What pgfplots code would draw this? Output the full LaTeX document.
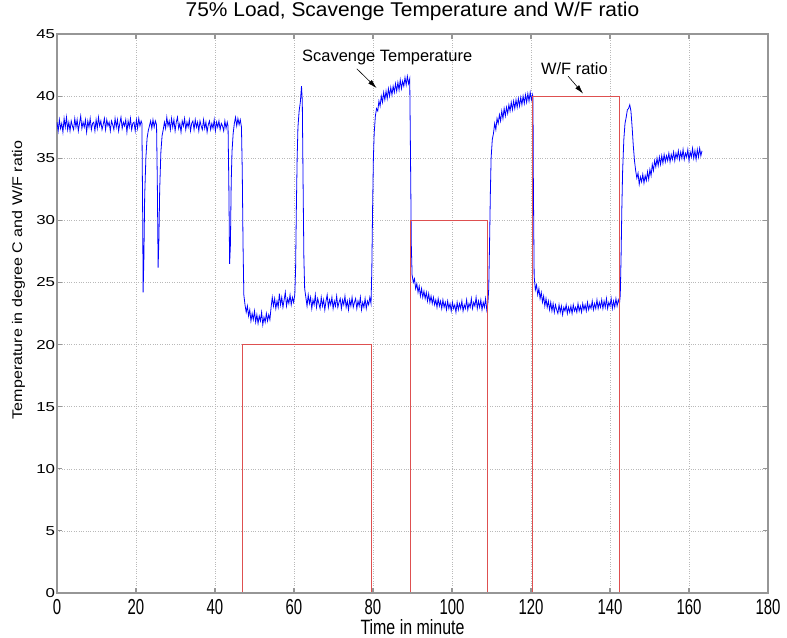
\documentclass[border=0pt]{standalone}
\usepackage{pgfplots}
\pgfplotsset{compat=1.18}
\usetikzlibrary{arrows.meta,calc}
\usepackage{fontspec}
\setmainfont{Liberation Sans}
\definecolor{wfred}{RGB}{222,80,80}
\definecolor{axgray}{RGB}{150,150,150}
\begin{document}
\begin{tikzpicture}
\begin{axis}[
    width=711bp, height=559bp, scale only axis,
    xmin=0, xmax=180, ymin=0, ymax=45,
    xtick={0,20,...,180}, ytick={0,5,...,45},
    /pgf/number format/assume math mode=true,
    xticklabel style={font=\fontsize{15}{17}\selectfont, yscale=1.45, yshift=-1bp},
    yticklabel style={font=\fontsize{13}{15}\selectfont, xscale=1.3, xshift=2bp},
    title style={font=\fontsize{20}{24}\selectfont, at={(rel axis cs:0.5,1)}, anchor=base, yshift=12bp},
    title={\scalebox{1.05}[1]{75\% Load, Scavenge Temperature and W/F ratio}},
    xlabel={\scalebox{1}[1.3]{Time in minute}},
    ylabel={\scalebox{1.15}[1]{Temperature in degree C and W/F ratio}},
    xlabel style={font=\fontsize{16}{18}\selectfont, at={(rel axis cs:0.5,0)}, anchor=base, yshift=-41bp},
    ylabel style={font=\fontsize{14}{16}\selectfont, at={($(rel axis cs:0,0.56)+(-38.5bp,0)$)}, anchor=center},
    grid=major,
    major grid style={dotted, gray!55, line width=0.5pt},
    axis line style={axgray, line width=1.2pt},
    major tick style={axgray, line width=1.2pt},
    major tick length=5bp,
    tick align=inside,
    xtick pos=both, ytick pos=both,
]
% scavenge temperature
\addplot[blue, line width=0.8pt] coordinates {
(0,37.9)(0.3,37.2)(0.6,38.1)(0.9,37.4)(1.2,37.8)(1.5,37.1)(1.8,38.2)(2.1,37.5)(2.4,38.3)(2.7,37.3)
(3.0,37.9)(3.3,37.2)(3.6,38.0)(3.9,37.6)(4.2,37.3)(4.5,38.2)(4.8,37.5)(5.1,38.1)(5.4,37.2)(5.7,37.8)
(6.0,38.4)(6.3,37.4)(6.6,37.9)(6.9,37.5)(7.2,38.1)(7.5,37.1)(7.8,38.0)(8.1,37.5)(8.4,38.2)(8.7,37.3)
(9.0,37.8)(9.3,37.9)(9.6,37.2)(9.9,38.1)(10.2,37.4)(10.5,38.3)(10.8,37.6)(11.1,38.0)(11.4,37.3)(11.7,37.7)
(12.0,38.2)(12.3,37.3)(12.6,38.1)(12.9,37.6)(13.2,37.9)(13.5,37.2)(13.8,38.0)(14.1,37.7)(14.4,37.3)(14.7,38.2)
(15.0,37.5)(15.3,38.1)(15.6,37.2)(15.9,37.8)(16.2,38.3)(16.5,37.4)(16.8,37.9)(17.1,37.6)(17.4,38.1)(17.7,37.1)
(18.0,38.0)(18.3,37.5)(18.6,38.2)(18.9,37.3)(19.2,37.8)(19.5,37.9)(19.8,37.2)(20.1,38.1)(20.4,37.4)(20.7,38.2)
(21.0,37.6)(21.3,38.0)(21.5,37.8)(21.7,30.0)(21.8,24.2)(22.0,27.0)(22.2,32.0)(22.5,35.0)(22.8,36.6)(23.1,37.2)
(23.4,37.6)(23.7,38.0)(24.0,37.4)(24.3,38.1)(24.6,37.5)(24.9,38.0)(25.2,37.7)(25.4,33.0)(25.6,26.2)(25.8,28.5)
(26.0,32.5)(26.3,35.5)(26.6,36.8)(26.9,37.3)(27.2,37.9)(27.5,37.4)(27.8,38.3)(28.1,37.6)(28.4,38.0)(28.7,37.3)
(29.0,38.2)(29.3,37.5)(29.6,38.1)(29.9,37.2)(30.2,37.9)(30.5,38.3)(30.8,37.4)(31.1,37.8)(31.4,37.1)(31.7,38.0)
(32.0,37.6)(32.3,38.2)(32.6,37.3)(32.9,37.9)(33.2,37.5)(33.5,38.1)(33.8,37.2)(34.1,37.8)(34.4,38.0)(34.7,37.3)
(35.0,38.1)(35.3,37.5)(35.6,37.9)(35.9,37.2)(36.2,38.0)(36.5,37.6)(36.8,37.3)(37.1,38.1)(37.4,37.4)(37.7,37.9)
(38.0,37.1)(38.3,37.7)(38.6,38.0)(38.9,37.3)(39.2,37.8)(39.5,37.4)(39.8,38.1)(40.1,37.2)(40.4,37.9)(40.7,37.5)
(41.0,38.0)(41.3,37.3)(41.6,37.8)(41.9,37.6)(42.2,37.2)(42.5,38.0)(42.8,37.4)(43.1,37.9)(43.3,37.6)(43.5,33.0)
(43.7,26.5)(43.9,28.0)(44.1,33.0)(44.3,35.5)(44.6,37.0)(44.9,37.8)(45.2,38.3)(45.5,37.6)(45.8,38.2)(46.1,37.7)
(46.4,38.1)(46.7,37.5)(46.9,34.0)(47.1,28.0)(47.3,24.0)(47.6,23.2)(47.9,22.6)(48.2,23.1)(48.5,22.3)(48.8,22.8)
(49.1,21.9)(49.4,22.5)(49.7,22.0)(50.0,22.7)(50.3,21.8)(50.6,22.4)(50.9,21.7)(51.2,22.3)(51.5,21.9)(51.8,22.6)
(52.1,21.6)(52.4,22.2)(52.7,21.8)(53.0,22.5)(53.3,21.9)(53.6,22.4)(53.9,22.0)(54.2,23.0)(54.5,23.8)(54.8,23.1)
(55.1,23.7)(55.4,22.9)(55.7,23.5)(56.0,23.0)(56.3,24.1)(56.6,23.2)(56.9,23.8)(57.2,23.0)(57.5,23.6)(57.8,24.2)
(58.1,23.1)(58.4,23.7)(58.7,23.3)(59.0,24.0)(59.3,23.2)(59.6,23.8)(59.9,23.4)(60.2,24.0)(60.4,26.0)(60.6,31.0)
(60.8,35.0)(61.0,37.5)(61.3,38.8)(61.6,39.5)(61.9,40.8)(62.1,39.6)(62.3,33.0)(62.5,27.0)(62.7,24.5)(63.0,23.8)
(63.3,23.1)(63.6,24.0)(63.9,23.3)(64.2,23.8)(64.5,22.9)(64.8,23.6)(65.1,23.2)(65.4,24.0)(65.7,23.0)(66.0,23.7)
(66.3,23.3)(66.6,22.9)(66.9,23.8)(67.2,23.1)(67.5,23.6)(67.8,22.8)(68.1,23.5)(68.4,24.0)(68.7,23.0)(69.0,23.6)
(69.3,23.2)(69.6,23.8)(69.9,22.9)(70.2,23.5)(70.5,23.1)(70.8,23.9)(71.1,23.0)(71.4,23.4)(71.7,23.7)(72.0,22.9)
(72.3,23.6)(72.6,23.2)(72.9,23.9)(73.2,23.0)(73.5,23.5)(73.8,22.8)(74.1,23.6)(74.4,23.1)(74.7,23.8)(75.0,23.0)
(75.3,23.4)(75.6,23.7)(75.9,22.9)(76.2,23.5)(76.5,23.1)(76.8,23.8)(77.1,22.8)(77.4,23.4)(77.7,23.0)(78.0,23.7)
(78.3,22.9)(78.6,23.5)(78.9,23.2)(79.2,23.8)(79.5,23.3)(79.7,26.0)(79.9,31.0)(80.1,35.0)(80.3,37.0)(80.6,38.4)
(80.9,39.0)(81.2,38.8)(81.5,39.6)(81.8,39.2)(82.1,40.0)(82.4,39.5)(82.7,40.3)(83.0,39.7)(83.3,40.4)(83.6,39.8)
(83.9,40.6)(84.2,40.0)(84.5,40.7)(84.8,40.1)(85.1,40.8)(85.4,40.3)(85.7,41.0)(86.0,40.4)(86.3,41.1)(86.6,40.5)
(86.9,41.3)(87.2,40.6)(87.5,41.2)(87.8,40.8)(88.1,41.5)(88.4,40.9)(88.7,41.6)(89.0,41.0)(89.3,41.4)(89.5,35.0)
(89.7,28.0)(89.9,25.6)(90.2,25.0)(90.5,25.3)(90.8,24.5)(91.1,24.9)(91.4,24.2)(91.7,24.7)(92.0,23.9)(92.3,24.5)
(92.6,23.8)(92.9,24.3)(93.2,23.7)(93.5,24.2)(93.8,23.5)(94.1,24.1)(94.4,23.4)(94.7,23.9)(95.0,23.3)(95.3,23.8)
(95.6,23.2)(95.9,23.6)(96.2,23.0)(96.5,23.7)(96.8,23.1)(97.1,23.5)(97.4,22.9)(97.7,23.6)(98.0,23.0)(98.3,23.4)
(98.6,22.8)(98.9,23.5)(99.2,22.9)(99.5,23.3)(99.8,22.7)(100.1,23.4)(100.4,22.9)(100.7,23.2)(101.0,22.6)(101.3,23.4)
(101.6,22.8)(101.9,23.3)(102.2,22.9)(102.5,23.5)(102.8,22.7)(103.1,23.2)(103.4,22.9)(103.7,23.6)(104.0,22.8)(104.3,23.3)
(104.6,23.0)(104.9,23.7)(105.2,22.9)(105.5,23.4)(105.8,23.1)(106.1,23.8)(106.4,22.9)(106.7,23.5)(107.0,23.0)(107.3,23.6)
(107.6,22.8)(107.9,23.4)(108.2,23.0)(108.5,23.7)(108.8,22.8)(109.1,23.4)(109.3,24.5)(109.5,28.0)(109.7,32.0)(109.9,35.0)
(110.2,36.5)(110.5,37.0)(110.8,37.8)(111.1,37.3)(111.4,38.2)(111.7,37.8)(112.0,38.5)(112.3,38.0)(112.6,38.8)(112.9,38.2)
(113.2,39.0)(113.5,38.4)(113.8,39.1)(114.1,38.6)(114.4,39.3)(114.7,38.8)(115.0,39.5)(115.3,38.9)(115.6,39.6)(115.9,39.0)
(116.2,39.7)(116.5,39.1)(116.8,39.8)(117.1,39.2)(117.4,39.9)(117.7,39.3)(118.0,40.0)(118.3,39.4)(118.6,40.1)(118.9,39.5)
(119.2,40.2)(119.5,39.6)(119.8,40.3)(120.1,39.7)(120.4,40.1)(120.5,39.8)(120.6,33.0)(120.8,25.5)(121.1,24.4)(121.4,24.8)
(121.7,24.0)(122.0,24.5)(122.3,23.7)(122.6,24.2)(122.9,23.4)(123.2,23.9)(123.5,23.1)(123.8,23.7)(124.1,23.0)(124.4,23.5)
(124.7,22.8)(125.0,23.4)(125.3,22.7)(125.6,23.3)(125.9,22.6)(126.2,23.2)(126.5,22.8)(126.8,22.5)(127.1,23.2)(127.4,22.6)
(127.7,23.1)(128.0,22.4)(128.3,23.0)(128.6,22.7)(128.9,23.2)(129.2,22.5)(129.5,23.0)(129.8,22.6)(130.1,23.1)(130.4,22.5)
(130.7,23.2)(131.0,22.7)(131.3,23.0)(131.6,22.6)(131.9,23.3)(132.2,22.7)(132.5,23.1)(132.8,22.6)(133.1,23.3)(133.4,22.8)
(133.7,23.2)(134.0,22.7)(134.3,23.4)(134.6,22.8)(134.9,23.2)(135.2,22.9)(135.5,23.5)(135.8,22.8)(136.1,23.3)(136.4,22.9)
(136.7,23.6)(137.0,22.9)(137.3,23.4)(137.6,23.0)(137.9,23.6)(138.2,22.9)(138.5,23.5)(138.8,23.0)(139.1,23.7)(139.4,22.9)
(139.7,23.4)(140.0,23.1)(140.3,23.7)(140.6,22.9)(140.9,23.5)(141.2,23.0)(141.5,23.7)(141.8,23.1)(142.1,23.6)(142.4,23.3)
(142.6,24.0)(142.8,27.0)(143.0,31.0)(143.2,34.0)(143.5,36.5)(143.8,37.8)(144.1,38.3)(144.4,38.9)(144.7,39.0)(145.0,39.3)
(145.3,38.8)(145.6,37.5)(145.9,36.0)(146.2,34.8)(146.5,34.0)(146.8,33.4)(147.1,33.8)(147.4,32.9)(147.7,33.5)(148.0,33.1)
(148.3,33.7)(148.6,33.0)(148.9,33.6)(149.2,33.2)(149.5,33.9)(149.8,33.3)(150.1,34.1)(150.4,33.6)(150.7,34.5)(151.0,34.0)
(151.3,34.8)(151.6,34.3)(151.9,35.0)(152.2,34.4)(152.5,35.1)(152.8,34.5)(153.1,35.2)(153.4,34.6)(153.7,35.3)(154.0,34.7)
(154.3,35.2)(154.6,34.8)(154.9,35.4)(155.2,34.7)(155.5,35.3)(155.8,34.9)(156.1,35.5)(156.4,34.8)(156.7,35.4)(157.0,35.0)
(157.3,35.6)(157.6,34.9)(157.9,35.5)(158.2,35.0)(158.5,35.7)(158.8,34.9)(159.1,35.4)(159.4,35.1)(159.7,35.7)(160.0,34.8)
(160.3,35.5)(160.6,35.1)(160.9,35.8)(161.2,35.0)(161.5,35.6)(161.8,34.9)(162.1,35.7)(162.4,35.1)(162.7,35.8)(163.0,35.2)
(163.3,35.6)
};
% W/F ratio
\addplot[wfred, line width=1pt] coordinates {
(0,0)(47,0)(47,20)(79.5,20)(79.5,0)(89.5,0)(89.5,30)(109,30)(109,0)
(120.5,0)(120.5,40)(142.5,40)(142.5,0)(163.3,0)
};
\draw[axgray, line width=1.2pt] (rel axis cs:0,0) -- (rel axis cs:1,0);
\node[font=\fontsize{16.5}{19}\selectfont] at (axis cs:83.6,43.1) {Scavenge Temperature};
\draw[-{Latex[length=9bp,width=5bp]}, line width=0.6pt] (axis cs:75.9,42.2) -- (axis cs:80.9,40.65);
\node[font=\fontsize{16.5}{19}\selectfont] at (axis cs:131,42.2) {W/F ratio};
\draw[-{Latex[length=9bp,width=5bp]}, line width=0.6pt] (axis cs:129.4,41.6) -- (axis cs:133.2,40.2);
\end{axis}
\pgfresetboundingbox
\path[use as bounding box] ([xshift=-57bp,yshift=-45bp]current axis.south west) rectangle ([xshift=19bp,yshift=34bp]current axis.north east);
\end{tikzpicture}
\end{document}
